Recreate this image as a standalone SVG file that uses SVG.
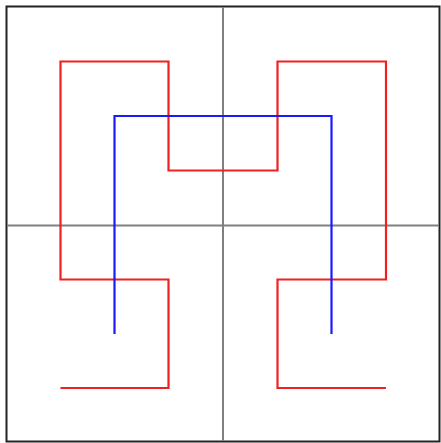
<svg xmlns="http://www.w3.org/2000/svg" width="441" height="443" viewBox="0 0 441 443">
<style>
.frame{fill:#fff;stroke:#222;stroke-width:2}
.grid{stroke:#808080;stroke-width:2;fill:none}
.red{stroke:#f02020;stroke-width:2.2;fill:none}
.blue{stroke:#1a1aff;stroke-width:2.2;fill:none}
</style>
<rect x="0" y="0" width="441" height="443" fill="#fff"/>
<rect class="frame" x="6.5" y="6.5" width="433" height="435"/>
<g id="grid">
<line class="grid" x1="223" y1="7" x2="223" y2="441"/>
<line class="grid" x1="7" y1="225.5" x2="439" y2="225.5"/>
</g>
<g id="hilbert-2">
<polyline class="red" points="60.5,388 168.5,388 168.5,279.5 60.5,279.5 60.5,61.5 168.5,61.5 168.5,170.5 277.5,170.5 277.5,61.5 386,61.5 386,279.5 277.5,279.5 277.5,388 386,388"/>
</g>
<g id="hilbert-1">
<polyline class="blue" points="114.5,334 114.5,116 331.5,116 331.5,334"/>
</g>
</svg>
